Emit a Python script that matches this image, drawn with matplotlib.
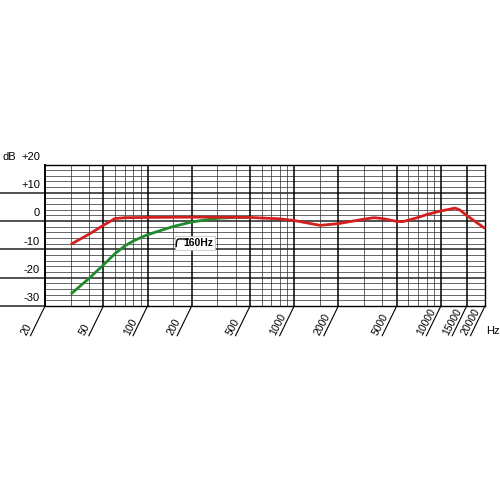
import matplotlib
matplotlib.use("Agg")

import matplotlib.pyplot as plt
import matplotlib.transforms as mtransforms
from matplotlib.patches import Rectangle

plt.rcParams["font.family"] = ["Liberation Sans", "DejaVu Sans"]

# ── data ──────────────────────────────────────────────────────────────────────

red_freq = [30, 40, 50, 60, 70, 100, 200, 300, 500, 800, 1000, 1500, 2000,
            3000, 3500, 4000, 5000, 5500, 6800, 8000, 10000, 11000, 12500,
            13500, 15000, 20000]
red_db = [-8.2, -4.6, -1.5, 0.9, 1.2, 1.3, 1.4, 1.4, 1.3, 0.8, 0.2, -1.5,
          -0.9, 0.7, 1.2, 0.9, -0.1, -0.2, 1.1, 2.3, 3.6, 4.0, 4.6, 3.9,
          2.0, -2.6]

green_freq = [30, 40, 50, 60, 70, 80, 100, 150, 200, 300, 400, 500]
green_db = [-25.8, -20.2, -15.5, -11.5, -8.8, -7.0, -4.8, -1.9, -0.3, 1.0,
            1.3, 1.3]

tick_freqs = [20, 50, 100, 200, 500, 1000, 2000, 5000, 10000, 15000, 20000]
tick_labels = ["20", "50", "100", "200", "500", "1000", "2000", "5000",
               "10000", "15000", "20000"]
minor_freqs = [30, 40, 60, 70, 80, 90, 150, 300, 400, 600, 700, 800, 900,
               1500, 3000, 4000, 6000, 7000, 8000, 9000]

db_major = [20, 10, 0, -10, -20, -30]
db_major_labels = ["+20", "+10", "0", "-10", "-20", "-30"]
db_minor = [v for v in range(-28, 20, 2) if v % 10]

filter_label = "160Hz"
filter_pos = (175, -9.4)   # freq, dB of the label's lower-left corner

# ── figure ────────────────────────────────────────────────────────────────────

fig = plt.figure(figsize=(5, 5), dpi=100)
ax = fig.add_axes([0.09, 0.388, 0.88, 0.283])
ax.set_xscale("log")
ax.set_xlim(20, 20000)
ax.set_ylim(-30, 20)
ax.set_xticks([])
ax.set_yticks([])
ax.minorticks_off()
for s in ax.spines.values():
    s.set_linewidth(1.0)
    s.set_color("black")
ax.spines["left"].set_linewidth(1.4)

# grid
for v in db_minor:
    ax.axhline(v, color="#2a2a2a", lw=0.5, zorder=1)
for v in db_major[1:-1]:
    ax.axhline(v, color="#222222", lw=1.1, zorder=1)
for f in minor_freqs:
    ax.axvline(f, color="#2a2a2a", lw=0.5, zorder=1)
for f in tick_freqs[1:-1]:
    ax.axvline(f, color="black", lw=1.1, zorder=1)

# level lines running out to the left edge + dB labels
ytr = mtransforms.blended_transform_factory(ax.transAxes, ax.transData)
for v, lab in zip(db_major, db_major_labels):
    if v != 20:
        ax.plot([-0.1023, 0], [v, v], color="#222222", lw=1.1,
                transform=ytr, clip_on=False)
    ax.annotate(lab, xy=(-0.0114, v), xycoords=ytr, xytext=(0, 2),
                textcoords="offset points", ha="right", va="bottom",
                fontsize=8)
ax.annotate("dB", xy=(-0.0955, 20), xycoords=ytr, xytext=(0, 2),
            textcoords="offset points", ha="left", va="bottom", fontsize=8)

# frequency labels on slanted strokes
for f, lab in zip(tick_freqs, tick_labels):
    ax.annotate("", xy=(f, 0), xycoords=("data", "axes fraction"),
                xytext=(-10.5, -21.5), textcoords="offset points",
                arrowprops=dict(arrowstyle="-", lw=0.8, color="black",
                                shrinkA=0, shrinkB=0))
    ax.annotate(lab, xy=(f, 0), xycoords=("data", "axes fraction"),
                xytext=(-13.5, -21.5), textcoords="offset points",
                rotation=62, rotation_mode="anchor", ha="left",
                va="baseline", fontsize=7.5)
ax.annotate("Hz", xy=(1.002, -0.177), xycoords="axes fraction",
            ha="left", va="center", fontsize=8)

# response curves
ax.plot(green_freq, green_db, color="#1f8a2e", lw=2.0, zorder=3,
        solid_capstyle="butt", solid_joinstyle="round")
ax.plot(red_freq, red_db, color="#d41f1f", lw=2.0, zorder=4,
        solid_capstyle="butt", solid_joinstyle="round")

# high-pass filter tag: box, slope symbol, text (offsets in points)
sym_tr = (mtransforms.Affine2D().scale(1 / 72) + fig.dpi_scale_trans
          + mtransforms.ScaledTranslation(filter_pos[0], filter_pos[1],
                                          ax.transData))
ax.add_patch(Rectangle((-6.0, -1.3), 28.6, 10.0, transform=sym_tr,
                       fc="white", ec="#bbbbbb", lw=0.5, zorder=5,
                       clip_on=False))
ax.plot([-5.0, -4.8, -4.2, -3.4, 3.8], [0.9, 4.0, 5.8, 6.3, 6.3],
        color="black", lw=1.0, transform=sym_tr, zorder=6, clip_on=False)
ax.text(filter_pos[0], filter_pos[1], filter_label, fontsize=7.5,
        fontweight="bold", ha="left", va="bottom", zorder=6)

fig.savefig("out.png", dpi=100, facecolor="white")
